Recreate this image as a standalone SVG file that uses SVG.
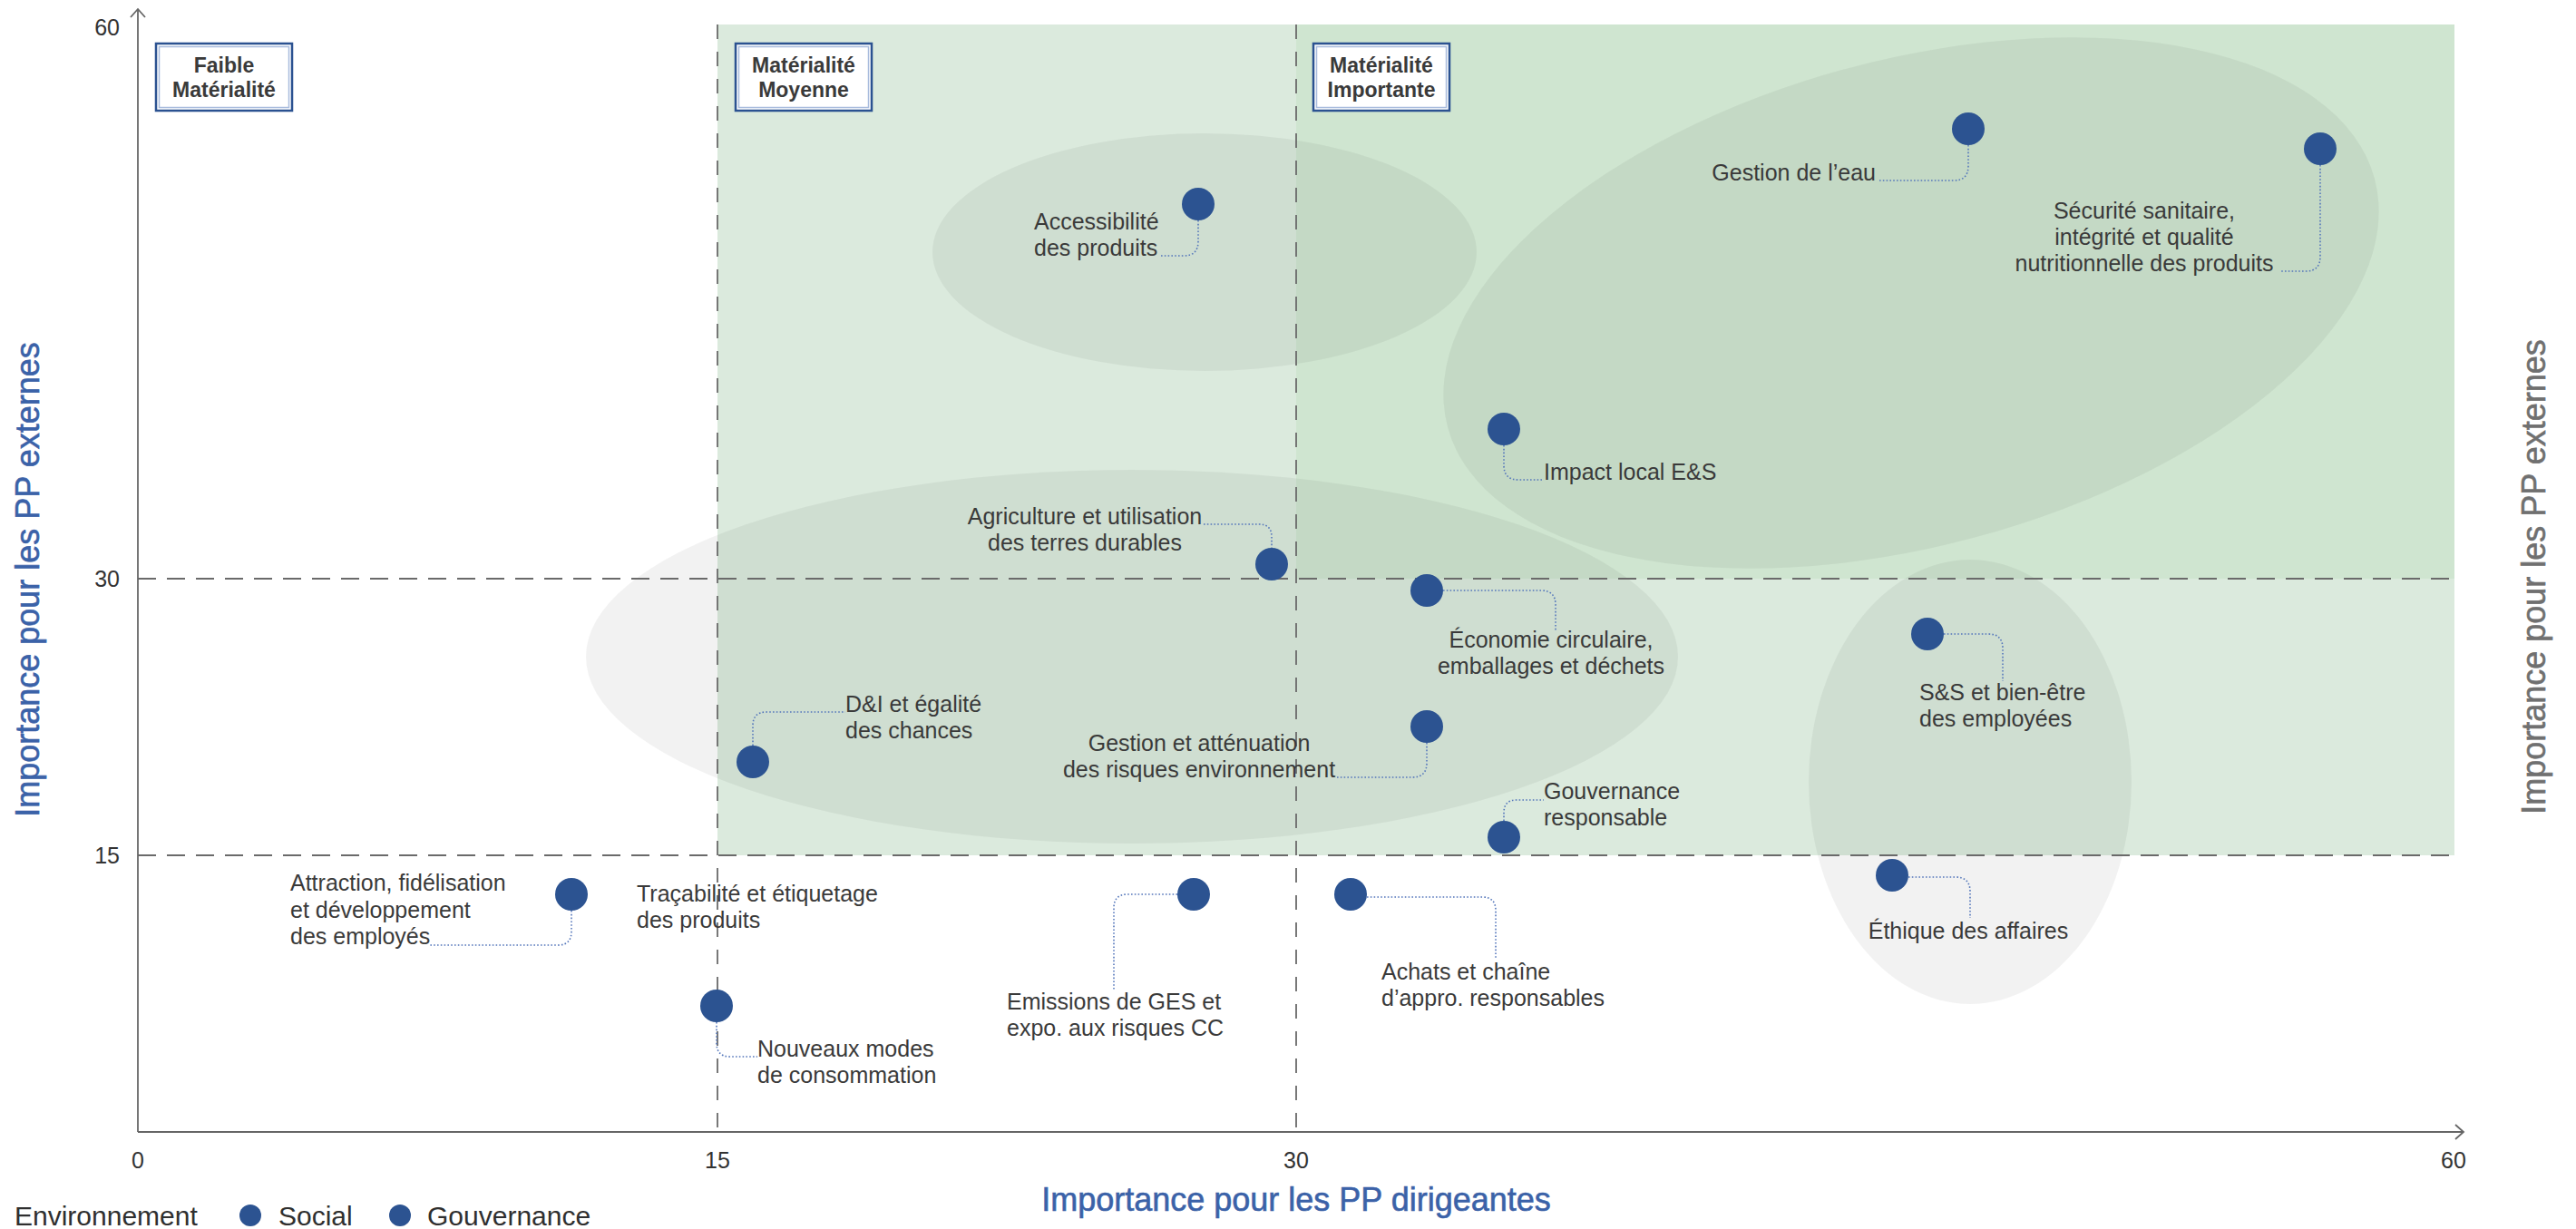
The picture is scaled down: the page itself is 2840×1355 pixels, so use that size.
<svg xmlns="http://www.w3.org/2000/svg" width="2840" height="1355" viewBox="0 0 2840 1355">
<style>
text{font-family:"Liberation Sans",Arial,sans-serif;fill:#3a3a3a}
.lbl{font-size:25px}
.tick{font-size:25px;fill:#333}
.title{font-size:36px;stroke-width:0.6}
.boxt{font-size:23px;font-weight:bold;text-anchor:middle}
.dot{fill:#2C5391}
.lead{fill:none;stroke:#5577BB;stroke-width:1.6;stroke-dasharray:1.6 2.2}
.dh{stroke:#6a6a6a;stroke-width:1.8;stroke-dasharray:20 12}
.dv{stroke:#6a6a6a;stroke-width:1.8;stroke-dasharray:16 14}
.axis{stroke:#666;stroke-width:1.8;fill:none}
.ell{fill:#000;fill-opacity:0.05}
.mid{text-anchor:middle}
.end{text-anchor:end}
</style>
<rect x="0" y="0" width="2840" height="1355" fill="#fff"/>
<g id="zones">
<rect x="791" y="27" width="1915" height="916" fill="#DBEADD"/>
<rect x="1429" y="27" width="1277" height="611" fill="#CFE5D0"/>
</g>
<g id="clusters">
<ellipse class="ell" cx="1328" cy="278" rx="300" ry="131"/>
<ellipse class="ell" cx="2107" cy="334" rx="529" ry="268" transform="rotate(-15 2107 334)"/>
<ellipse class="ell" cx="1248" cy="724" rx="602" ry="206"/>
<ellipse class="ell" cx="2172" cy="862" rx="178" ry="245"/>
</g>
<g id="grid">
<line class="dh" x1="152" y1="638" x2="2706" y2="638"/>
<line class="dh" x1="152" y1="943" x2="2706" y2="943"/>
<line class="dv" x1="791" y1="27" x2="791" y2="1248"/>
<line class="dv" x1="1429" y1="27" x2="1429" y2="1248"/>
</g>
<g id="axes">
<line class="axis" x1="152" y1="1248" x2="152" y2="10"/>
<polyline class="axis" points="144,19 152,10 160,19"/>
<line class="axis" x1="152" y1="1248" x2="2716" y2="1248"/>
<polyline class="axis" points="2707,1240 2716,1248 2707,1256"/>
<text class="tick end" x="132" y="39">60</text>
<text class="tick end" x="132" y="647">30</text>
<text class="tick end" x="132" y="952">15</text>
<text class="tick mid" x="152" y="1288">0</text>
<text class="tick mid" x="791" y="1288">15</text>
<text class="tick mid" x="1429" y="1288">30</text>
<text class="tick mid" x="2705" y="1288">60</text>
<text class="title mid" x="1429" y="1335" fill="#3B62A8" style="fill:#3B62A8;stroke:#3B62A8">Importance pour les PP dirigeantes</text>
<text class="title mid" transform="translate(43 639) rotate(-90)" style="fill:#3B62A8;stroke:#3B62A8">Importance pour les PP externes</text>
<text class="title mid" transform="translate(2806 636) rotate(-90)" style="fill:#707070;stroke:#707070">Importance pour les PP externes</text>
</g>
<g id="box-faible">
<rect x="172" y="48" width="150" height="74" fill="#fff" stroke="#2B5291" stroke-width="2.5"/>
<rect x="175.5" y="51.5" width="143" height="67" fill="none" stroke="#A9BCDD" stroke-width="1.5"/>
<text class="boxt" x="247" y="80">Faible</text>
<text class="boxt" x="247" y="107">Matérialité</text>
</g>
<g id="box-moyenne">
<rect x="811" y="48" width="150" height="74" fill="#fff" stroke="#2B5291" stroke-width="2.5"/>
<rect x="814.5" y="51.5" width="143" height="67" fill="none" stroke="#A9BCDD" stroke-width="1.5"/>
<text class="boxt" x="886" y="80">Matérialité</text>
<text class="boxt" x="886" y="107">Moyenne</text>
</g>
<g id="box-importante">
<rect x="1448" y="48" width="150" height="74" fill="#fff" stroke="#2B5291" stroke-width="2.5"/>
<rect x="1451.5" y="51.5" width="143" height="67" fill="none" stroke="#A9BCDD" stroke-width="1.5"/>
<text class="boxt" x="1523" y="80">Matérialité</text>
<text class="boxt" x="1523" y="107">Importante</text>
</g>
<g id="connectors">
<path class="lead" d="M1321,243 V266 Q1321,282 1305,282 H1280"/>
<path class="lead" d="M2170,160 V183 Q2170,199 2154,199 H2070"/>
<path class="lead" d="M2558,182 V283 Q2558,299 2542,299 H2513"/>
<path class="lead" d="M1658,491 V513 Q1658,529 1674,529 H1702"/>
<path class="lead" d="M1327,578 H1388 Q1402,578 1402,592 V604"/>
<path class="lead" d="M1591,651 H1699 Q1715,651 1715,667 V695"/>
<path class="lead" d="M830,822 V800 Q830,785 845,785 H932"/>
<path class="lead" d="M1573,819 V841 Q1573,857 1557,857 H1474"/>
<path class="lead" d="M1658,905 V896 Q1658,882 1672,882 H1702"/>
<path class="lead" d="M2143,699 H2192 Q2208,699 2208,715 V751"/>
<path class="lead" d="M2104,967 H2156 Q2172,967 2172,983 V1012"/>
<path class="lead" d="M630,1004 V1027 Q630,1042 615,1042 H474"/>
<path class="lead" d="M790,1127 V1150 Q790,1165 805,1165 H835"/>
<path class="lead" d="M1298,986 H1243 Q1228,986 1228,1001 V1092"/>
<path class="lead" d="M1507,989 H1634 Q1649,989 1649,1004 V1057"/>
</g>
<g id="n-accessibilite">
<circle class="dot" cx="1321" cy="225" r="18"/>
<text class="lbl" x="1140" y="253">Accessibilité</text>
<text class="lbl" x="1140" y="282">des produits</text>
</g>
<g id="n-eau">
<circle class="dot" cx="2170" cy="142" r="18"/>
<text class="lbl end" x="2068" y="199">Gestion de l’eau</text>
</g>
<g id="n-securite">
<circle class="dot" cx="2558" cy="164" r="18"/>
<text class="lbl mid" x="2364" y="241">Sécurité sanitaire,</text>
<text class="lbl mid" x="2364" y="270">intégrité et qualité</text>
<text class="lbl mid" x="2364" y="299">nutritionnelle des produits</text>
</g>
<g id="n-impact">
<circle class="dot" cx="1658" cy="473" r="18"/>
<text class="lbl" x="1702" y="529">Impact local E&amp;S</text>
</g>
<g id="n-agriculture">
<circle class="dot" cx="1402" cy="622" r="18"/>
<text class="lbl mid" x="1196" y="578">Agriculture et utilisation</text>
<text class="lbl mid" x="1196" y="607">des terres durables</text>
</g>
<g id="n-economie">
<circle class="dot" cx="1573" cy="651" r="18"/>
<text class="lbl mid" x="1710" y="714">Économie circulaire,</text>
<text class="lbl mid" x="1710" y="743">emballages et déchets</text>
</g>
<g id="n-di">
<circle class="dot" cx="830" cy="840" r="18"/>
<text class="lbl" x="932" y="785">D&amp;I et égalité</text>
<text class="lbl" x="932" y="814">des chances</text>
</g>
<g id="n-risques">
<circle class="dot" cx="1573" cy="801" r="18"/>
<text class="lbl mid" x="1322" y="828">Gestion et atténuation</text>
<text class="lbl mid" x="1322" y="857">des risques environnement</text>
</g>
<g id="n-gouvernance">
<circle class="dot" cx="1658" cy="923" r="18"/>
<text class="lbl" x="1702" y="881">Gouvernance</text>
<text class="lbl" x="1702" y="910">responsable</text>
</g>
<g id="n-ss">
<circle class="dot" cx="2125" cy="699" r="18"/>
<text class="lbl" x="2116" y="772">S&amp;S et bien-être</text>
<text class="lbl" x="2116" y="801">des employées</text>
</g>
<g id="n-ethique">
<circle class="dot" cx="2086" cy="965" r="18"/>
<text class="lbl mid" x="2170" y="1035">Éthique des affaires</text>
</g>
<g id="n-attraction">
<circle class="dot" cx="630" cy="986" r="18"/>
<text class="lbl" x="320" y="982">Attraction, fidélisation</text>
<text class="lbl" x="320" y="1012">et développement</text>
<text class="lbl" x="320" y="1041">des employés</text>
</g>
<g id="n-tracabilite">
<text class="lbl" x="702" y="994">Traçabilité et étiquetage</text>
<text class="lbl" x="702" y="1023">des produits</text>
</g>
<g id="n-nouveaux">
<circle class="dot" cx="790" cy="1109" r="18"/>
<text class="lbl" x="835" y="1165">Nouveaux modes</text>
<text class="lbl" x="835" y="1194">de consommation</text>
</g>
<g id="n-emissions">
<circle class="dot" cx="1316" cy="986" r="18"/>
<text class="lbl" x="1110" y="1113">Emissions de GES et</text>
<text class="lbl" x="1110" y="1142">expo. aux risques CC</text>
</g>
<g id="n-achats">
<circle class="dot" cx="1489" cy="986" r="18"/>
<text class="lbl" x="1523" y="1080">Achats et chaîne</text>
<text class="lbl" x="1523" y="1109">d’appro. responsables</text>
</g>
<g id="legend">
<text x="16" y="1351" style="font-size:30px;fill:#2f2f2f">Environnement</text>
<circle class="dot" cx="276" cy="1340" r="12"/>
<text x="307" y="1351" style="font-size:30px;fill:#2f2f2f">Social</text>
<circle class="dot" cx="441" cy="1340" r="12"/>
<text x="471" y="1351" style="font-size:30px;fill:#2f2f2f">Gouvernance</text>
</g>
</svg>
